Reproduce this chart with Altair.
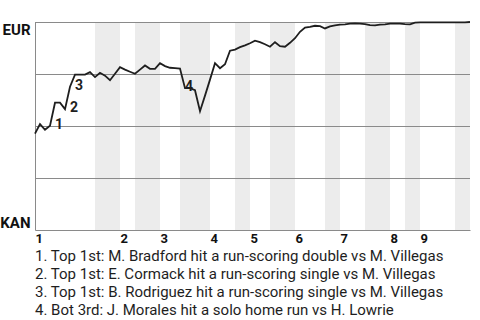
import altair as alt
import pandas as pd

# Win probability for EUR (1 = EUR wins, 0 = KAN wins), one value per plate appearance
wp = [0.463, 0.509, 0.482, 0.501, 0.612, 0.612, 0.581, 0.689, 0.747, 0.747,
      0.747, 0.759, 0.735, 0.756, 0.742, 0.720, 0.751, 0.783, 0.771, 0.761,
      0.751, 0.771, 0.791, 0.775, 0.775, 0.802, 0.788, 0.780, 0.778, 0.776,
      0.682, 0.682, 0.672, 0.571, 0.646, 0.723, 0.802, 0.778, 0.797, 0.862,
      0.867, 0.879, 0.888, 0.898, 0.910, 0.903, 0.893, 0.881, 0.903, 0.884,
      0.881, 0.900, 0.922, 0.953, 0.973, 0.977, 0.982, 0.980, 0.969, 0.979,
      0.984, 0.987, 0.989, 0.992, 0.993, 0.992, 0.990, 0.985, 0.984, 0.987,
      0.989, 0.992, 0.992, 0.992, 0.990, 0.989, 0.997, 0.998, 0.998, 0.998,
      0.998, 0.998, 0.998, 0.998, 0.998, 0.998, 0.998, 1.000]

# plate appearances per half inning: top1, bot1, top2, bot2, ...
half_pa = [12, 5, 3, 5, 4, 6, 5, 3, 4, 5, 6, 3, 5, 5, 3, 3, 7, 3]
innings = ["1", "2", "3", "4", "5", "6", "7", "8", "9"]

event_idx = [4, 7, 8, 30]
event_num = ["1", "2", "3", "4"]
footnotes = [
    "1. Top 1st: M. Bradford hit a run-scoring double vs M. Villegas",
    "2. Top 1st: E. Cormack hit a run-scoring single vs M. Villegas",
    "3. Top 1st: B. Rodriguez hit a run-scoring single vs M. Villegas",
    "4. Bot 3rd: J. Morales hit a solo home run vs H. Lowrie",
]
grid_levels = [0.25, 0.5, 0.75, 1.0]

FONT = "Roboto"
GRID = "#8a8a8a"

# build tables
line_df = pd.DataFrame({"pa": list(range(len(wp))), "wp": wp})

starts = []
pos = 0
for n in half_pa:
    starts.append(pos)
    pos += n
ends = [s + n for s, n in zip(starts, half_pa)]
bands = pd.DataFrame({"x0": starts[1::2], "x1": ends[1::2]})
inning_starts = starts[0::2]

lab_df = pd.DataFrame({
    "pa": event_idx,
    "wp": [min(wp[i - 1], wp[i]) for i in event_idx],
    "num": event_num,
})
grid_df = pd.DataFrame({"g": grid_levels})

total = sum(half_pa)
xscale = alt.Scale(domain=[0, total], nice=False, zero=False)
yscale = alt.Scale(domain=[0, 1], nice=False)

label_map = "{" + ",".join(f"'{s}':'{l}'" for s, l in zip(inning_starts, innings)) + "}"

x_axis = alt.Axis(
    values=inning_starts, labelExpr=f"{label_map}[datum.value]",
    ticks=False, grid=False, domainColor=GRID, domainWidth=1,
    labelAlign="left", labelBaseline="top", labelPadding=2,
    labelFont=FONT, labelFontSize=13, labelFontWeight="bold", labelColor="#111",
    labelOverlap=False, title=None,
)
y_axis = alt.Axis(
    values=[0, 1], labelExpr="datum.value == 1 ? 'EUR' : 'KAN'",
    ticks=False, grid=False, domainColor=GRID, domainWidth=1,
    labelFlush=True, labelPadding=5,
    labelFont=FONT, labelFontSize=15, labelFontWeight="bold", labelColor="#111",
    title=None,
)

band_layer = alt.Chart(bands).mark_rect(color="#ececec").encode(
    x=alt.X("x0:Q", scale=xscale, axis=x_axis),
    x2="x1:Q",
    y=alt.value(0),
    y2=alt.value(208),
)

grid_layer = alt.Chart(grid_df).mark_rule(color=GRID, strokeWidth=1, yOffset=0.5).encode(
    y=alt.Y("g:Q", scale=yscale, axis=y_axis),
    x=alt.value(0),
    x2=alt.value(435),
)

line_layer = alt.Chart(line_df).mark_line(color="#1e1e1e", strokeWidth=1.8).encode(
    x=alt.X("pa:Q", scale=xscale),
    y=alt.Y("wp:Q", scale=yscale),
)

text_layer = alt.Chart(lab_df).mark_text(
    font=FONT, fontSize=14, fontWeight="bold", color="#1e1e1e",
    align="left", baseline="middle", dx=0, dy=-1,
).encode(
    x=alt.X("pa:Q", scale=xscale),
    y=alt.Y("wp:Q", scale=yscale),
    text="num:N",
)

chart = alt.layer(band_layer, grid_layer, line_layer, text_layer).properties(
    width=435, height=208,
    padding={"left": 35, "top": 22, "right": 10, "bottom": 90},
    autosize=alt.AutoSizeParams(type="none"),
    background="white",
    title=alt.TitleParams(
        text=footnotes, orient="bottom", anchor="start", align="left", frame="group",
        font=FONT, fontSize=15, fontWeight="normal", color="#1e1e1e",
        lineHeight=18, offset=4, baseline="top",
    ),
).configure_view(stroke=None)

chart.save("out.html", embed_options={"renderer": "svg", "actions": False})
